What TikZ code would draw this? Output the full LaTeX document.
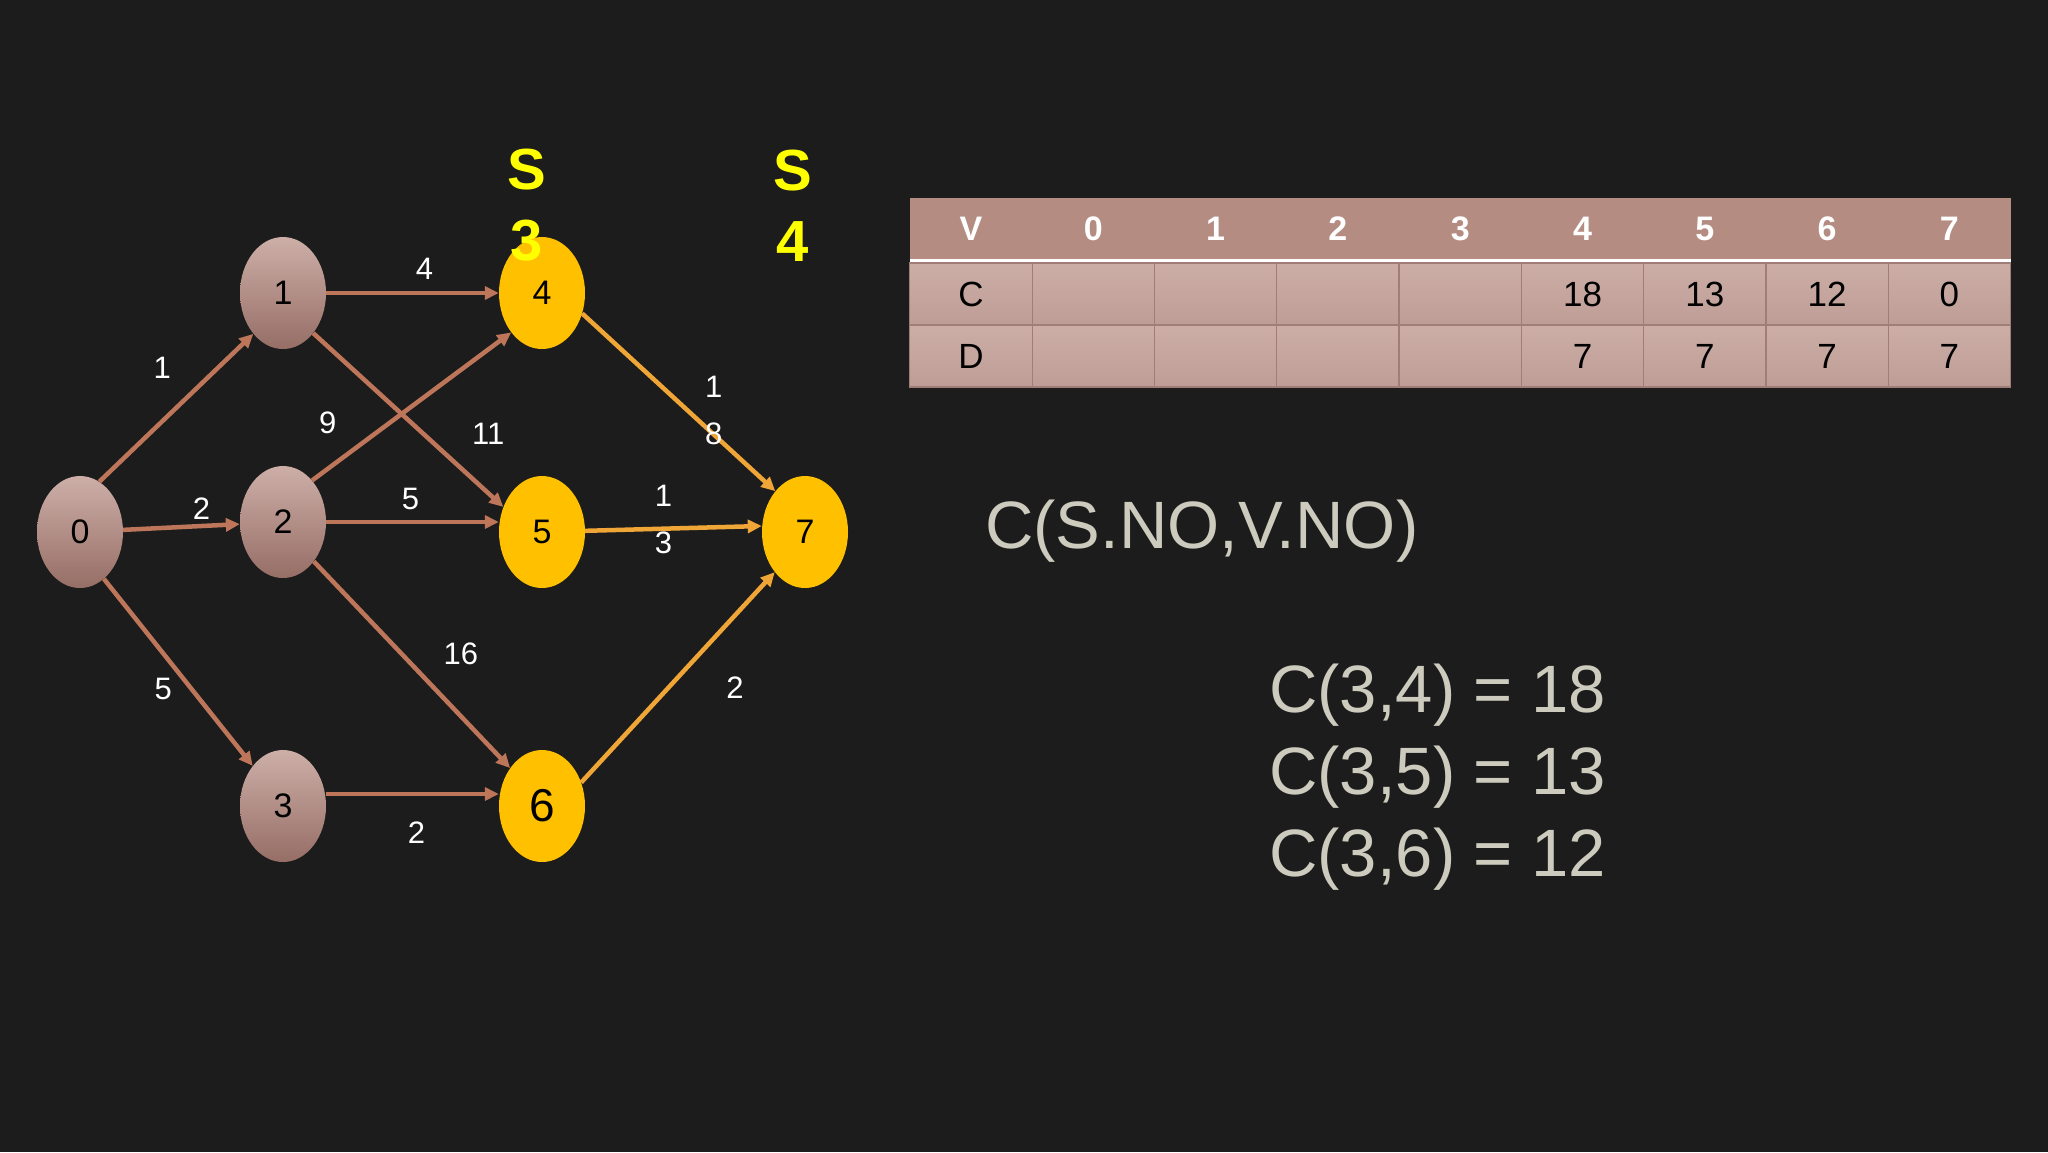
\documentclass[tikz,border=0pt]{standalone}
\usepackage{fontspec}
\setmainfont{Liberation Sans}
\usetikzlibrary{shapes.geometric,arrows.meta}
\definecolor{slate}{RGB}{28,28,28}
\definecolor{vtxtop}{RGB}{205,175,168}
\definecolor{vtxbot}{RGB}{150,110,102}
\definecolor{vyel}{RGB}{255,192,0}
\definecolor{ebrown}{RGB}{190,118,90}
\definecolor{eorange}{RGB}{240,165,55}
\definecolor{syel}{RGB}{255,255,0}
\definecolor{thead}{RGB}{180,140,130}
\definecolor{tbtop}{RGB}{204,174,167}
\definecolor{tbbot}{RGB}{190,157,150}
\definecolor{tline}{RGB}{160,125,118}
\definecolor{gtext}{RGB}{205,203,190}
\newcommand{\fsz}[2]{\fontsize{#1}{#2}\selectfont}

\begin{document}
\begin{tikzpicture}[x=1pt, y=-1pt,
    vtx/.style={ellipse, minimum width=86pt, minimum height=112pt, inner sep=0pt,
        top color=vtxtop, bottom color=vtxbot, font=\fsz{34}{40}},
    vtxy/.style={ellipse, minimum width=86pt, minimum height=112pt, inner sep=0pt,
        fill=vyel, font=\fsz{34}{40}},
    edge/.style={draw=ebrown, line width=4.5pt, -{Triangle[length=14pt,width=13pt]}},
    edgey/.style={edge, draw=eorange},
    wlbl/.style={text=white, font=\fsz{31}{47}, inner sep=0pt, align=center},
    stage/.style={text=syel, font=\bfseries\fsz{58}{71}, inner sep=0pt, align=center},
    thd/.style={rectangle, minimum width=122.3pt, minimum height=62pt, inner sep=0pt,
        fill=thead, text=white, font=\bfseries\fsz{34}{40}},
    tcell/.style={rectangle, minimum width=122.3pt, minimum height=62pt, inner sep=0pt,
        top color=tbtop, bottom color=tbbot, draw=tline, line width=1.2pt, font=\fsz{35}{42}},
    gtxt/.style={text=gtext, font=\fsz{67}{82}, inner sep=0pt, align=left, anchor=west}]

    % background
    \fill[slate] (0,0) rectangle (2048,1152);

    % vertices
    \node[vtx] (n0) at (80,532) {0};
    \node[vtx] (n1) at (283,293) {1};
    \node[vtx] (n2) at (283,522) {2};
    \node[vtx] (n3) at (283,806) {3};
    \node[vtxy] (n4) at (542,293) {4};
    \node[vtxy] (n5) at (542,532) {5};
    \node[vtxy, font=\fsz{46}{52}] (n6) at (542,806) {6};
    \node[vtxy] (n7) at (805,532) {7};

    % edges with costs
    \draw[edge] (n0.69) -- node[wlbl, xshift=-14pt, yshift=40pt] {1} (n1.234);
    \draw[edge] (n0) -- node[wlbl, xshift=20pt, yshift=18pt] {2} (n2);
    \draw[edge] (n0.297) -- node[wlbl, xshift=-15pt, yshift=-17pt] {5} (n3.127);
    \draw[edge] (n1) -- node[wlbl, xshift=12pt, yshift=24pt] {4} (n4);
    \draw[edge] (n1.307) -- node[wlbl, xshift=80pt, yshift=-14pt] {11} (n5.147);
    \draw[edge] (n2.55) -- node[wlbl, xshift=-84pt, yshift=-16pt] {9} (n4.232);
    \draw[edge] (n2.east) -- node[wlbl, xshift=-2pt, yshift=23pt] {5} (n2.east -| n5.west);
    \draw[edge] (n2.308) -- node[wlbl, xshift=49pt, yshift=11pt] {16} (n6.130);
    \draw[edge] ([yshift=12pt]n3.east) -- node[wlbl, xshift=4pt, yshift=-39pt] {2} ([yshift=12pt]n6.west);
    \draw[edgey] (n4.333) -- node[wlbl, xshift=35pt, yshift=-8pt] {1\\8} (n7.126);
    \draw[edgey] (n5) -- node[wlbl, xshift=-10pt, yshift=9pt] {1\\3} ([yshift=6pt]n7.west);
    \draw[edgey] (n6.31) -- node[wlbl, xshift=57pt, yshift=-10pt] {2} (n7.233);

    % stages
    \node[stage] (s3) at (527,205) {S\\3};
    \node[stage] (s4) at (793,206) {S\\4};

    % table
    \foreach \lbl [count=\i from 0] in {V,0,1,2,3,4,5,6,7} {
        \node[thd] (h\i) at ({971+122.3*\i},229) {\lbl};
    }
    \foreach \lbl [count=\i from 0] in {C,{},{},{},{},18,13,12,0} {
        \node[tcell] (c\i) at ({971+122.3*\i},294) {\lbl};
    }
    \foreach \lbl [count=\i from 0] in {D,{},{},{},{},7,7,7,7} {
        \node[tcell] (d\i) at ({971+122.3*\i},356) {\lbl};
    }
    \draw[white, line width=3pt] (h0.south west) -- (h8.south east);

    % cost formula
    \node[gtxt] (fn) at (985,531) {C(S.NO,V.NO)};
    \node[gtxt] (res) at (1269,777) {C(3,4) = 18\\C(3,5) = 13\\C(3,6) = 12};
\end{tikzpicture}
\end{document}
